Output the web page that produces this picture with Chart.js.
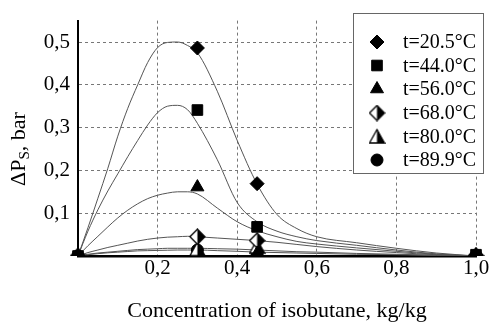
<!DOCTYPE html>
<html>
<head>
<meta charset="utf-8">
<script src="https://cdn.jsdelivr.net/npm/chart.js@4/dist/chart.umd.min.js"></script>
<style>
html,body{margin:0;padding:0;background:#fff;}
#wrap{width:490px;height:322px;position:relative;}
</style>
</head>
<body>
<div id="wrap"><canvas id="c" width="490" height="322"></canvas></div>
<script>
// ---- data ----
const seriesLabels = ['t=20.5°C','t=44.0°C','t=56.0°C','t=68.0°C','t=80.0°C','t=89.9°C'];
const pointX = [0, 0.3, 0.45, 1.0];
const pts205 = [0, 0.486, 0.169, 0.002];
const pts440 = [0, 0.341, 0.068, 0.003];
const pts560 = [0, 0.161, 0.006, 0.002];
const pts680 = [0, 0.045, 0.036, 0.001];
const pts800 = [0, 0.016, 0.022, 0.001];
const pts899 = [0, 0.014, 0.004, 0.001];

const curveX   = [0, 0.025, 0.05, 0.075, 0.1, 0.125, 0.15, 0.175, 0.2, 0.225, 0.25, 0.275, 0.3, 0.35, 0.4, 0.45, 0.5, 0.55, 0.6, 0.7, 0.8, 0.9, 1.0];
const curve205 = [0, 0.066, 0.135, 0.205, 0.28, 0.345, 0.40, 0.452, 0.487, 0.499, 0.50, 0.492, 0.475, 0.385, 0.27, 0.168, 0.097, 0.064, 0.045, 0.031, 0.018, 0.007, 0];
const curve440 = [0, 0.058, 0.108, 0.152, 0.192, 0.232, 0.27, 0.306, 0.335, 0.35, 0.352, 0.342, 0.31, 0.225, 0.125, 0.08, 0.058, 0.045, 0.036, 0.025, 0.014, 0.005, 0];
const curve560 = [0, 0.024, 0.046, 0.068, 0.089, 0.107, 0.122, 0.134, 0.142, 0.147, 0.15, 0.15, 0.145, 0.112, 0.08, 0.059, 0.045, 0.034, 0.028, 0.019, 0.011, 0.004, 0];
const curve680 = [0, 0.008, 0.014, 0.020, 0.025, 0.030, 0.035, 0.039, 0.042, 0.044, 0.045, 0.046, 0.045, 0.042, 0.039, 0.036, 0.032, 0.027, 0.022, 0.014, 0.008, 0.003, 0];
const curve800 = [0, 0.004, 0.007, 0.009, 0.011, 0.013, 0.015, 0.016, 0.017, 0.018, 0.018, 0.018, 0.018, 0.017, 0.016, 0.014, 0.012, 0.010, 0.009, 0.006, 0.004, 0.002, 0];
const curve899 = [0, 0.003, 0.0055, 0.0075, 0.009, 0.0105, 0.012, 0.0125, 0.013, 0.0135, 0.014, 0.014, 0.014, 0.0125, 0.011, 0.009, 0.008, 0.007, 0.006, 0.004, 0.003, 0.001, 0];

const xTicks = [0.2, 0.4, 0.6, 0.8, 1.0];
const yTicks = [0.1, 0.2, 0.3, 0.4, 0.5];

// ---- half-filled marker images ----
function halfMarker(kind) {
  const s = 17, c = document.createElement('canvas');
  c.width = s; c.height = s;
  const g = c.getContext('2d');
  g.beginPath();
  if (kind === 'diamond') {
    g.moveTo(1, 8.5); g.lineTo(8.5, 1); g.lineTo(16, 8.5); g.lineTo(8.5, 16); g.closePath();
  } else {
    g.moveTo(8.5, 1.5); g.lineTo(16, 15); g.lineTo(1, 15); g.closePath();
  }
  g.fillStyle = '#fff'; g.fill();
  g.save(); g.clip(); g.fillStyle = '#000'; g.fillRect(8.5, 0, 9, s); g.restore();
  g.lineWidth = 1.3; g.strokeStyle = '#000'; g.stroke();
  return c;
}
const styles = ['rectRot', 'rect', 'triangle', halfMarker('diamond'), halfMarker('triangle'), 'circle'];
const radii = [7, 7.5, 7.5, 7, 7.5, 6];

const curves = [curve205, curve440, curve560, curve680, curve800, curve899];
const points = [pts205, pts440, pts560, pts680, pts800, pts899];

const datasets = [];
points.forEach((arr, i) => {
  datasets.push({
    type: 'scatter',
    label: seriesLabels[i],
    data: pointX.map((x, k) => ({x: x, y: arr[k]})),
    pointStyle: styles[i],
    pointRadius: radii[i],
    pointHoverRadius: radii[i],
    pointBackgroundColor: '#000',
    pointBorderColor: '#000',
    pointBorderWidth: 1,
    showLine: false,
    order: 0,
    clip: {left: 12, top: 12, right: 12, bottom: 0}
  });
});
curves.forEach((arr, i) => {
  datasets.push({
    type: 'line',
    label: 'fit ' + seriesLabels[i],
    data: curveX.map((x, k) => ({x: x, y: arr[k]})),
    borderColor: '#555',
    borderWidth: 1,
    pointRadius: 0,
    cubicInterpolationMode: 'monotone',
    fill: false,
    order: 1
  });
});

const fmt = v => (Math.abs(v) < 1e-9) ? '' : v.toFixed(1).replace('.', ',');
const SERIF = '"Liberation Serif", "Times New Roman", serif';

const legendPlugin = {
  id: 'insideLegend',
  afterDraw(chart) {
    const ctx = chart.ctx;
    const bx = 353, by = 13, bw = 130, bh = 160;
    ctx.save();
    ctx.fillStyle = '#fff';
    ctx.fillRect(bx, by, bw, bh);
    ctx.strokeStyle = '#666';
    ctx.lineWidth = 1;
    ctx.strokeRect(bx + 0.5, by + 0.5, bw, bh);
    const rowY = [42, 65.5, 89, 113, 136.5, 160];
    seriesLabels.forEach((lab, i) => {
      ctx.fillStyle = '#000'; ctx.strokeStyle = '#000';
      Chart.helpers.drawPoint(ctx, {pointStyle: styles[i], radius: radii[i], rotation: 0, borderWidth: 1}, 377, rowY[i]);
      ctx.fillStyle = '#000';
      ctx.font = '20px ' + SERIF;
      ctx.textAlign = 'left';
      ctx.textBaseline = 'middle';
      ctx.fillText(lab, 403, rowY[i] + 1);
    });
    ctx.restore();
  }
};

const yTitlePlugin = {
  id: 'yTitle',
  afterDraw(chart) {
    const ctx = chart.ctx;
    ctx.save();
    ctx.translate(19, 149);
    ctx.rotate(-Math.PI / 2);
    ctx.fillStyle = '#000';
    ctx.textBaseline = 'middle';
    ctx.textAlign = 'left';
    const big = '22px ' + SERIF;
    const small = '15px ' + SERIF;
    ctx.font = big; const w1 = ctx.measureText('ΔP').width; const w3 = ctx.measureText(', bar').width;
    ctx.font = small; const w2 = ctx.measureText('S').width;
    let x0 = -(w1 + w2 + w3) / 2;
    ctx.font = big; ctx.fillText('ΔP', x0, 0);
    ctx.font = small; ctx.fillText('S', x0 + w1, 6);
    ctx.font = big; ctx.fillText(', bar', x0 + w1 + w2, 0);
    ctx.restore();
  }
};

new Chart(document.getElementById('c'), {
  type: 'scatter',
  data: {datasets},
  options: {
    responsive: false,
    animation: false,
    events: [],
    layout: {padding: {top: 13, right: 14, left: 0, bottom: 0}},
    plugins: {legend: {display: false}, tooltip: {enabled: false}, title: {display: false}},
    scales: {
      x: {
        type: 'linear', min: 0, max: 1,
        afterFit(s) { s.height = 66; },
        afterBuildTicks(s) { s.ticks = [{value: 0}].concat(xTicks.map(v => ({value: v}))); },
        ticks: {callback: v => fmt(v), color: '#000', padding: 0, maxRotation: 0, autoSkip: false,
                font: {family: SERIF, size: 21}},
        grid: {color: '#777', lineWidth: 1, drawTicks: false},
        border: {display: true, color: '#000', width: 2.5, dash: [3, 3]},
        title: {display: true, text: 'Concentration of isobutane, kg/kg', color: '#000', padding: {top: 0, bottom: 0},
                font: {family: SERIF, size: 22, lineHeight: 1}}
      },
      y: {
        type: 'linear', min: 0, max: 0.55,
        afterFit(s) { s.width = 78; },
        afterBuildTicks(s) { s.ticks = [{value: 0}].concat(yTicks.map(v => ({value: v}))); },
        ticks: {callback: v => fmt(v), color: '#000', padding: 8, autoSkip: false,
                font: {family: SERIF, size: 21}},
        grid: {color: '#777', lineWidth: 1, drawTicks: false},
        border: {display: true, color: '#000', width: 2, dash: [3, 3]},
        title: {display: false}
      }
    }
  },
  plugins: [legendPlugin, yTitlePlugin]
});
</script>
</body>
</html>
